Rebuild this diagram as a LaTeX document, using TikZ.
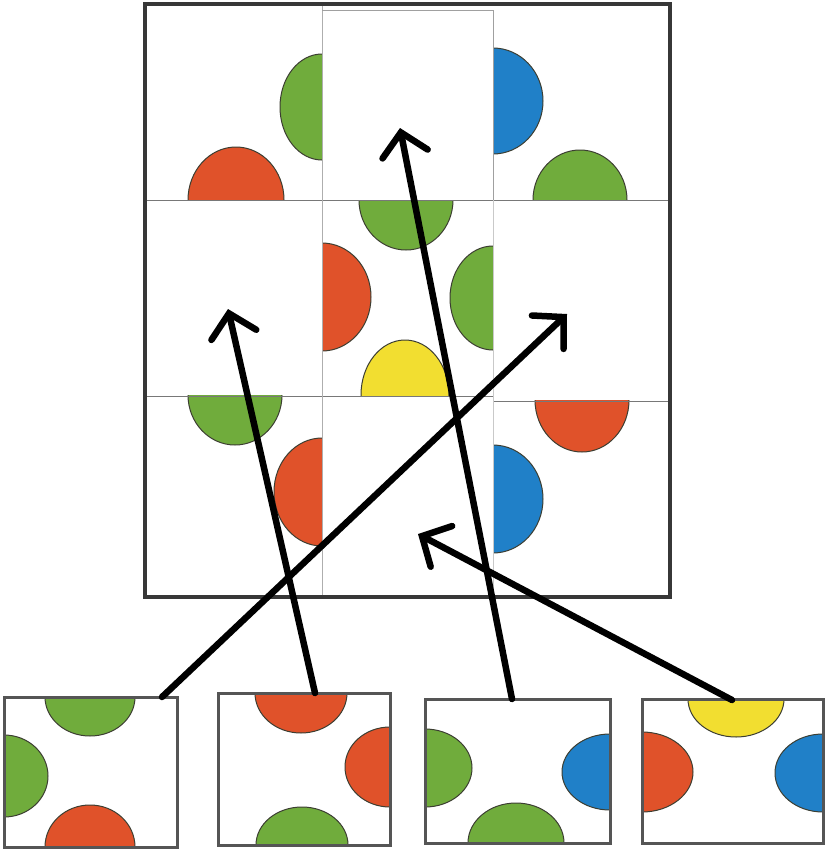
\documentclass[tikz,border=0pt]{standalone}
\usetikzlibrary{arrows.meta}
\definecolor{cg}{RGB}{112,172,60}
\definecolor{cr}{RGB}{224,82,42}
\definecolor{cb}{RGB}{32,128,200}
\definecolor{cy}{RGB}{242,222,48}
\definecolor{framec}{RGB}{55,55,55}
\definecolor{edgec}{RGB}{60,62,50}
\definecolor{gridc}{RGB}{120,120,120}
\begin{document}
\begin{tikzpicture}[x=1pt,y=-1pt,
  disc/.style={draw=edgec, line width=1pt},
  gd/.style={disc, fill=cg},
  rd/.style={disc, fill=cr},
  bd/.style={disc, fill=cb},
  yd/.style={disc, fill=cy},
  tile/.style={draw=framec!85, line width=3pt, inner sep=0pt, outer sep=0pt},
  arr/.style={line width=6.5pt, line cap=round, line join=round,
    -{Straight Barb[length=22pt,width=46pt,line cap=round]}}
]
\useasboundingbox (0,0) rectangle (826,849);
\fill[white] (0,0) rectangle (826,849);

% ---- big grid: discs per cell ----
\begin{scope}\clip (145,4) rectangle (322,200);
  \filldraw[gd] (322,107) ellipse [x radius=42, y radius=53];
  \filldraw[rd] (236,200) ellipse [x radius=48, y radius=53];
\end{scope}
\begin{scope}\clip (493,4) rectangle (670,200);
  \filldraw[bd] (493,101) ellipse [x radius=50, y radius=53];
  \filldraw[gd] (580,200) ellipse [x radius=47, y radius=50];
\end{scope}
\begin{scope}\clip (322,200) rectangle (493,395);
  \filldraw[gd] (406,200) ellipse [x radius=47, y radius=50];
  \filldraw[rd] (322,297) ellipse [x radius=49, y radius=54];
  \filldraw[gd] (493,298) ellipse [x radius=43, y radius=52];
  \filldraw[yd] (405,395) ellipse [x radius=44, y radius=55];
\end{scope}
\begin{scope}\clip (145,395) rectangle (322,597);
  \filldraw[gd] (235,395) ellipse [x radius=47, y radius=50];
  \filldraw[rd] (322,492) ellipse [x radius=48, y radius=54];
\end{scope}
\begin{scope}\clip (493,400) rectangle (670,597);
  \filldraw[rd] (582,400) ellipse [x radius=47, y radius=52];
  \filldraw[bd] (493,499) ellipse [x radius=50, y radius=54];
\end{scope}

% grid lines
\draw[gridc, line width=0.8pt] (145,200) -- (670,200);
\draw[gridc, line width=0.8pt] (145,396) -- (493,396);
\draw[gridc, line width=0.8pt] (493,401) -- (670,401);
\draw[gridc!60, line width=0.6pt] (322,4) -- (322,597);
\draw[gridc!70, line width=0.8pt] (493,10) -- (493,200);
\draw[gridc!40, line width=0.6pt] (493,200) -- (493,597);
\draw[gridc!70, line width=0.8pt] (322,10) -- (493,10);

% frame
\node[draw=framec, line width=4pt, minimum width=525pt, minimum height=593pt,
      inner sep=0pt] (grid) at (407.5,300.5) {};

% ---- loose tiles ----
\begin{scope}\clip (4,697) rectangle (177,847);
  \filldraw[gd] (90,697) ellipse [x radius=45, y radius=39];
  \filldraw[gd] (4,776) ellipse [x radius=44, y radius=41];
  \filldraw[rd] (90,847) ellipse [x radius=45, y radius=42];
\end{scope}
\begin{scope}\clip (218,693) rectangle (390,845);
  \filldraw[rd] (301,693) ellipse [x radius=46, y radius=40];
  \filldraw[rd] (390,767) ellipse [x radius=45, y radius=40];
  \filldraw[gd] (302,845) ellipse [x radius=46, y radius=38];
\end{scope}
\begin{scope}\clip (425,699) rectangle (610,843);
  \filldraw[gd] (425,768) ellipse [x radius=47, y radius=39];
  \filldraw[bd] (610,772) ellipse [x radius=48, y radius=38];
  \filldraw[gd] (516,843) ellipse [x radius=48, y radius=40];
\end{scope}
\begin{scope}\clip (642,699) rectangle (823,843);
  \filldraw[yd] (736,699) ellipse [x radius=48, y radius=38];
  \filldraw[rd] (642,772) ellipse [x radius=51, y radius=40];
  \filldraw[bd] (823,773) ellipse [x radius=48, y radius=39];
\end{scope}
\node[tile, minimum width=173pt, minimum height=150pt] (t1) at (90.5,772) {};
\node[tile, minimum width=172pt, minimum height=152pt] (t2) at (304,769) {};
\node[tile, minimum width=185pt, minimum height=144pt] (t3) at (517.5,771) {};
\node[tile, minimum width=181pt, minimum height=144pt] (t4) at (732.5,771) {};

% ---- arrows ----
\coordinate (s1) at (162,697);
\coordinate (s2) at (315,693);
\coordinate (s3) at (512,699);
\coordinate (s4) at (732,700);
\coordinate (c12) at (400,128);
\coordinate (c21) at (228,309);
\coordinate (c23) at (567,314);
\coordinate (c32) at (418,534);
\draw[arr] (s1) -- (c23);
\draw[arr] (s2) -- (c21);
\draw[arr] (s3) -- (c12);
\draw[arr] (s4) -- (c32);
\end{tikzpicture}
\end{document}
